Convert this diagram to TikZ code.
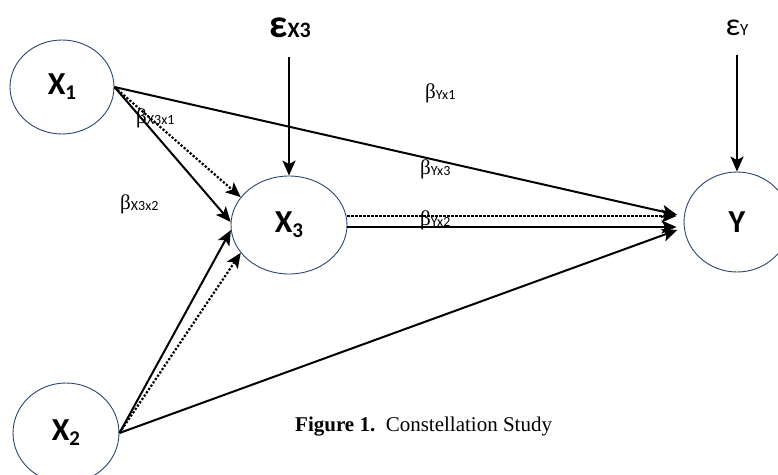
\documentclass[tikz,border=0pt]{standalone}
\usepackage{fontspec}
\setmainfont{Liberation Serif}
\setsansfont{Carlito}
\newfontfamily\greekfont{Liberation Serif}
\usepackage{tikz}
\usetikzlibrary{shapes.geometric,arrows.meta}
\definecolor{RingBlue}{HTML}{2A4470}
\definecolor{InkBlack}{HTML}{000000}

\newcommand{\coef}[1]{{\greekfont\fontsize{21}{21}\selectfont β}\raisebox{-1pt}{\sffamily\fontsize{14}{14}\selectfont #1}}
\newcommand{\latentname}[2]{#1\raisebox{-5pt}{\fontsize{21}{21}\selectfont #2}}

\begin{document}
\begin{tikzpicture}[x=1pt,y=-1pt,
    latent/.style={ellipse, draw=RingBlue, line width=0.9pt, inner sep=0pt,
                   font=\sffamily\bfseries\fontsize{32}{32}\selectfont},
    link/.style={draw=InkBlack, line width=2pt, -{Stealth[length=15pt,width=13pt,inset=3.5pt]}},
    dotlink/.style={link, line width=2.2pt, dash pattern=on 2.2pt off 1.8pt},
    coeflabel/.style={anchor=base west, inner sep=0pt}]
        \useasboundingbox (0,0) rectangle (778,474);

        % latent variables
        \node[latent, minimum width=104pt, minimum height=94pt] (x1) at (62,87) {\latentname{X}{1}};
        \node[latent, minimum width=106pt, minimum height=100pt] (x2) at (66,433) {\latentname{X}{2}};
        \node[latent, minimum width=116pt, minimum height=98pt] (x3) at (289,225) {\latentname{X}{3}};
        \node[latent, minimum width=106pt, minimum height=100pt] (y) at (737,222) {Y};

        % error terms
        \node[anchor=base, inner sep=0pt, font=\sffamily\bfseries] (ex3) at (290,37)
          {{\fontsize{40}{40}\selectfont ε}{\fontsize{22}{22}\selectfont X3}};
        \node[anchor=base, inner sep=0pt, font=\sffamily] (ey) at (737,35)
          {{\fontsize{32}{32}\selectfont ε}{\fontsize{17}{17}\selectfont Y}};

        \draw[link, shorten <=20pt] (x3.north |- ex3.south) -- (x3.north);
        \draw[link, shorten <=20pt] (y.north |- ey.south) -- (y.north);

        % paths into X3
        \draw[link] (x1.east) -- (x3.177);
        \draw[dotlink] (x1.east) -- (x3.150);
        \draw[link] (x2.east) -- (x3.185);
        \draw[dotlink] (x2.east) -- (x3.210);

        % paths into Y
        \draw[link, shorten >=7pt] (x1.east) -- (y.174);
        \draw[dotlink, shorten >=7pt] ([yshift=9pt]x3.east) -- ([yshift=9pt]x3.east -| y.west);
        \draw[link, shorten >=7pt] ([yshift=-2pt]x3.east) -- ([yshift=-2pt]x3.east -| y.west);
        \draw[link, shorten >=7pt] (x2.east) -- (y.186);

        % coefficients
        \node[coeflabel] (bx3x1) at (136,123) {\coef{X3x1}};
        \node[coeflabel] (bx3x2) at (120,209) {\coef{X3x2}};
        \node[coeflabel] (byx1) at (425,98) {\coef{Yx1}};
        \node[coeflabel] (byx3) at (420,174) {\coef{Yx3}};
        \node[coeflabel] (byx2) at (420,225) {\coef{Yx2}};

        % caption
        \node[anchor=base west, inner sep=0pt, font=\fontsize{21}{21}\selectfont] (caption) at (295,431)
          {\textbf{Figure 1.}\hspace{0.5em}Constellation Study};
\end{tikzpicture}
\end{document}
